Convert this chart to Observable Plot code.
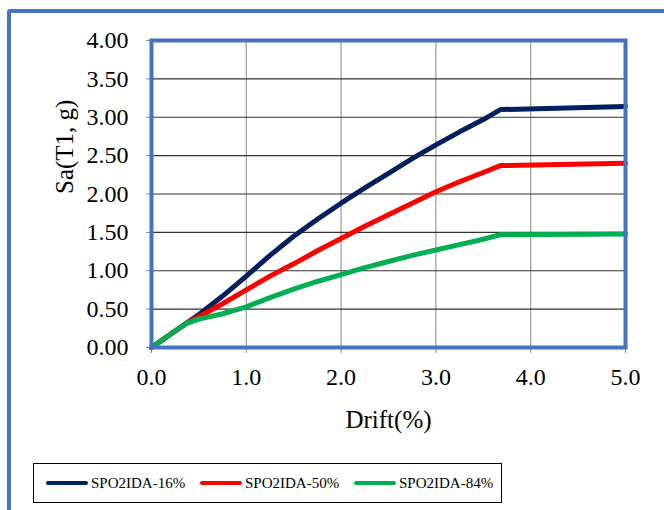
<!DOCTYPE html>
<html>
<head>
<meta charset="utf-8">
<script src="https://cdn.jsdelivr.net/npm/d3@7"></script>
<script src="https://cdn.jsdelivr.net/npm/@observablehq/plot@0.6"></script>
<style>
  html, body { margin: 0; padding: 0; background: #fff; }
  body { width: 664px; height: 510px; overflow: hidden; position: relative; font-family: "Liberation Serif", Tinos, "Times New Roman", Times, "Nimbus Roman", serif; }
  #outer { position: absolute; left: 7px; top: 9px; width: 700px; height: 600px; border: 4.5px solid #4472C4; border-radius: 3px; box-sizing: border-box; }
  #chart { position: absolute; left: 0; top: 0; }
  #chart svg, #chart svg text { font-family: "Liberation Serif", Tinos, "Times New Roman", Times, "Nimbus Roman", serif !important; }
  #legend { position: absolute; left: 33px; top: 463px; width: 469px; height: 40px; border: 1.5px solid #000; box-sizing: border-box; font-size: 15px; color: #000; }
  .item { position: absolute; top: 0; height: 100%; display: flex; align-items: center; }
  .swatch { display: inline-block; width: 42px; height: 4px; border-radius: 2px; margin-right: 3px; }
</style>
</head>
<body>
<div id="outer"></div>
<div id="chart"></div>
<div id="legend"></div>
<script>
// Data
const drift = [0, 0.36, 0.5, 0.75, 1.0, 1.25, 1.5, 1.75, 2.0, 2.25, 2.5, 2.75, 3.0, 3.25, 3.5, 3.68, 5.0];
const sa16 = [0, 0.31, 0.43, 0.67, 0.93, 1.20, 1.45, 1.67, 1.88, 2.08, 2.27, 2.46, 2.64, 2.81, 2.97, 3.10, 3.14];
const sa50 = [0, 0.31, 0.40, 0.57, 0.75, 0.93, 1.09, 1.26, 1.42, 1.58, 1.73, 1.88, 2.03, 2.16, 2.28, 2.37, 2.40];
const sa84 = [0, 0.31, 0.37, 0.44, 0.53, 0.65, 0.76, 0.86, 0.95, 1.04, 1.12, 1.20, 1.27, 1.34, 1.41, 1.47, 1.48];
const seriesNames = ["SPO2IDA-16%", "SPO2IDA-50%", "SPO2IDA-84%"];
const seriesColors = ["#002060", "#FF0000", "#00B050"];
const xTicks = [0, 1, 2, 3, 4, 5];
const yTicks = [0, 0.5, 1, 1.5, 2, 2.5, 3, 3.5, 4];
const xLabel = "Drift(%)";
const yLabel = "Sa(T1, g)";

const seriesValues = [sa16, sa50, sa84];
const rows = [];
seriesValues.forEach((vals, i) => {
  vals.forEach((v, j) => rows.push({series: seriesNames[i], drift: drift[j], sa: v}));
});

const serif = "'Liberation Serif', Tinos, 'Times New Roman', Times, 'Nimbus Roman', serif";
const chart = Plot.plot({
  width: 664,
  height: 440,
  marginLeft: 151,
  marginRight: 39,
  marginTop: 40,
  marginBottom: 93,
  style: {fontFamily: serif, fontSize: "24px", color: "#000", background: "transparent"},
  x: {domain: [0, 5]},
  y: {domain: [0, 4]},
  color: {domain: seriesNames, range: seriesColors},
  marks: [
    Plot.gridX(xTicks, {stroke: "#9a9a9a", strokeOpacity: 1, strokeWidth: 1.2}),
    Plot.gridY(yTicks, {stroke: "#333", strokeOpacity: 1, strokeWidth: 1.2}),
    Plot.axisX({ticks: xTicks, tickFormat: d3.format(".1f"), tickSize: 6, tickPadding: 14, stroke: "#888", label: null}),
    Plot.axisY({ticks: yTicks, tickFormat: d3.format(".2f"), tickSize: 5, tickPadding: 18, stroke: "#888", label: null}),
    Plot.line(rows, {x: "drift", y: "sa", z: "series", stroke: "series", strokeWidth: 5, strokeLinejoin: "round"}),
    Plot.frame({stroke: "#4472C4", strokeWidth: 4}),
    Plot.text([xLabel], {frameAnchor: "bottom", dy: 72, text: d => d, fontSize: 25, lineAnchor: "middle"}),
    Plot.text([yLabel], {frameAnchor: "left", dx: -87, text: d => d, fontSize: 25, rotate: -90, lineAnchor: "middle"})
  ]
});
document.getElementById("chart").appendChild(chart);

const legend = document.getElementById("legend");
const offsets = [12, 166, 320];
seriesNames.forEach((name, i) => {
  const item = document.createElement("div");
  item.className = "item";
  item.style.left = offsets[i] + "px";
  const sw = document.createElement("span");
  sw.className = "swatch";
  sw.style.background = seriesColors[i];
  item.appendChild(sw);
  item.appendChild(document.createTextNode(name));
  legend.appendChild(item);
});
</script>
</body>
</html>
